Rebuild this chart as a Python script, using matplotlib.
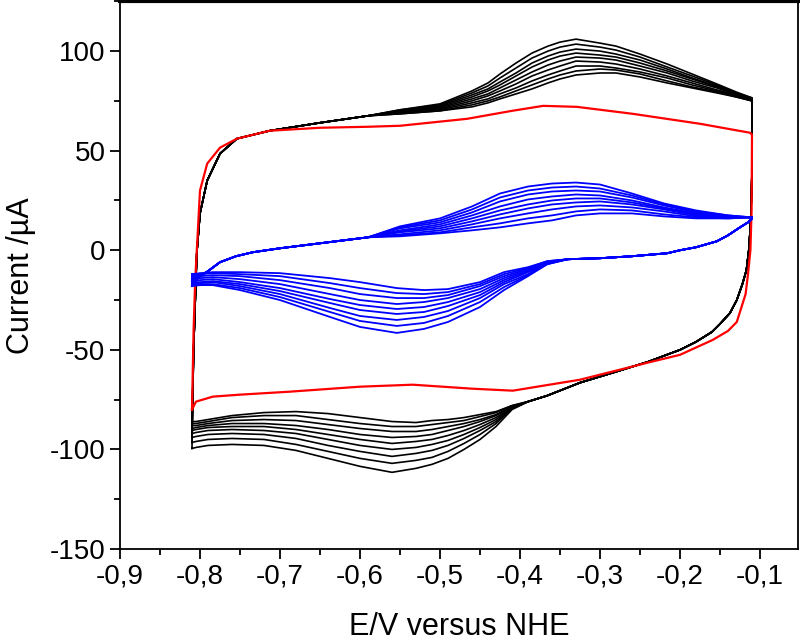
import matplotlib
matplotlib.use("Agg")
import matplotlib.pyplot as plt
from matplotlib.ticker import MultipleLocator, FuncFormatter

# ---- data (E in V vs NHE, I in uA) ----

# black cycles: shared rising edge at -0.81 V
black_rise_E = [-0.808, -0.804, -0.80, -0.791, -0.775, -0.754, -0.713, -0.65, -0.59]
black_rise_I = [-50, -1.5, 18.5, 35, 48.5, 56, 60, 64, 67.5]

# black anodic peak region, one row per cycle (outer -> inner)
black_peak_E = [-0.55, -0.50, -0.46, -0.44, -0.425, -0.405, -0.385, -0.365, -0.35, -0.33,
                -0.30, -0.28, -0.25, -0.216, -0.185, -0.154, -0.13, -0.11]
black_peak_I = [
    [70.5, 73.5, 80, 84, 88.5, 94, 99, 102.5, 104.5, 106, 104, 102.5, 98.5, 93.5, 88.5, 83.5, 79.5, 76.5],
    [70.5, 73, 79, 82.5, 86.5, 91.5, 96.5, 100, 102, 103.5, 102, 100.5, 97, 92, 87.5, 83, 79, 76.5],
    [70, 72.5, 78, 81, 84.5, 89, 94, 97.5, 99.5, 101, 100, 98.5, 95.5, 91, 86.5, 82.5, 78.5, 76],
    [70, 72, 77, 80, 83, 87.5, 92, 95.5, 97.5, 99, 98, 97, 94, 90, 86, 82, 78.5, 76],
    [69.5, 71.5, 76, 78.5, 81.5, 85.5, 89.5, 93, 95, 97, 96.5, 95.5, 92.5, 89, 85, 81.5, 78, 75.5],
    [69.5, 71, 75, 77.5, 80, 83.5, 87.5, 90.5, 92.5, 95, 94.5, 93.5, 91, 87.5, 84, 80.5, 78, 75.5],
    [69, 70.5, 74, 76, 78.5, 81.5, 85, 88, 90, 92.5, 92.5, 91.5, 89.5, 86.5, 83, 80, 77.5, 75],
    [68.5, 70, 73, 75, 77, 80, 83, 86, 88, 90, 91, 90.5, 88.5, 85, 82, 79.5, 77, 75],
    [68.5, 70, 72, 74, 76, 78.5, 81, 84, 86, 88, 89, 89, 87, 84, 81.5, 79, 77, 75],
]

# black switching edge at -0.11 V and shared cathodic start
black_drop_E = [-0.11, -0.1115, -0.114, -0.117, -0.122, -0.129, -0.1375, -0.15, -0.16,
                -0.18, -0.20, -0.24, -0.28, -0.325, -0.366, -0.39]
black_drop_I = [40, 15, 0, -10, -17, -25, -31.5, -37, -41, -46, -50, -56, -61, -66.5,
                -73, -76]

# black cathodic valley, one row per cycle (outer -> inner)
black_valley_E = [-0.41, -0.43, -0.45, -0.47, -0.49, -0.51, -0.53, -0.56, -0.60, -0.64,
                  -0.68, -0.72, -0.76, -0.79, -0.805, -0.81]
black_valley_I = [
    [-80, -88.5, -95, -100, -104.5, -107.5, -109.5, -111.5, -108.5, -104.5, -100.5, -98, -97.5, -98, -99, -99.5],
    [-79.5, -87, -92.5, -97, -101, -104, -105.5, -107, -104.5, -101, -97.5, -95, -94.5, -95, -96, -96.5],
    [-79.5, -86, -90.5, -94.5, -98, -100.5, -102, -103.5, -101, -98, -94.5, -92.5, -92, -92.5, -93.5, -94],
    [-79, -85, -89, -92.5, -95.5, -97.5, -99, -100, -98, -95, -92, -90.5, -90, -90.5, -91.5, -92],
    [-79, -84, -87.5, -90.5, -93, -95, -96, -97, -95, -92.5, -90, -88.5, -88.5, -89, -90, -90.5],
    [-78.5, -83, -86, -88.5, -90.5, -92.5, -93.5, -94, -92.5, -90, -88, -87, -87, -88, -89, -89.5],
    [-78.5, -82.5, -85, -87, -88.5, -90, -91, -91, -89.5, -87.5, -85.5, -85, -85.5, -87, -88, -88],
    [-78, -81.5, -83.5, -85.5, -86.5, -87.5, -88.5, -88.5, -87, -85, -83, -83, -84, -86, -87, -87],
    [-78, -81, -82.5, -84, -85, -85.5, -86.5, -86, -84, -82, -81, -81.5, -83, -85, -86, -86],
]

# red single cycle
red_E = [-0.81, -0.808, -0.806, -0.80, -0.791, -0.775, -0.754, -0.713, -0.65, -0.59,
         -0.55, -0.466, -0.41, -0.371, -0.329, -0.259, -0.175, -0.1125, -0.11,
         -0.1105, -0.112, -0.115, -0.118, -0.129, -0.14, -0.159, -0.2, -0.241, -0.325,
         -0.409, -0.46, -0.534, -0.6, -0.6875, -0.75, -0.784, -0.805, -0.81]
red_I = [-80, -40, -15, 30, 43.5, 51.5, 56, 60, 61.5, 62,
         62.5, 66, 70, 72.5, 72, 68.5, 63.5, 59, 58,
         20, 0, -12, -22, -36, -40.5, -45, -52.5, -56.5, -65,
         -70.5, -69.5, -67.5, -68.5, -71, -72.5, -73.5, -76, -80]

# blue cycles: shared rise after -0.81 V
blue_rise_E = [-0.80, -0.79, -0.775, -0.755, -0.734, -0.70, -0.67, -0.63, -0.59]
blue_rise_I = [-13, -10.5, -6, -3, -1, 1, 2.5, 4.5, 6.5]

blue_peak_E = [-0.55, -0.50, -0.46, -0.425, -0.39, -0.36, -0.33, -0.30, -0.26, -0.22,
               -0.18, -0.14, -0.11]
blue_peak_I = [
    [12, 16, 22, 28.5, 32, 33.5, 34, 33, 28.5, 23.5, 20, 17.5, 16.5],
    [11.5, 15, 20.5, 26.5, 30, 31.5, 32, 31, 27.5, 23, 19.5, 17.5, 16.5],
    [11, 14, 19, 24.5, 28, 29.5, 30, 29.5, 26.5, 22.5, 19, 17, 16.5],
    [10, 13, 17.5, 22, 25.5, 27, 28, 27.5, 25, 21.5, 18.5, 17, 16.5],
    [9.5, 12, 16, 20, 23, 25, 26, 26, 24, 21, 18, 17, 16.5],
    [9, 11, 14.5, 18, 21, 23, 24, 24.5, 23, 20.5, 17.5, 16.5, 16.5],
    [8, 10, 13, 16, 18.5, 20.5, 22, 22.5, 21.5, 19.5, 17, 16.5, 16.5],
    [7.5, 9, 11.5, 13.5, 16, 17.5, 19.5, 20.5, 20, 18, 16.5, 16, 16.5],
    [7, 8.5, 10, 11.5, 13.5, 15, 17.5, 18.5, 18.5, 17, 16, 16, 16.5],
]

blue_drop_E = [-0.11, -0.115, -0.125, -0.14, -0.154, -0.18, -0.20, -0.216, -0.26, -0.30,
               -0.34]
blue_drop_I = [16, 14, 11.5, 7.5, 4.5, 1.5, 0, -1.5, -3, -4, -4.5]

blue_valley_E = [-0.366, -0.39, -0.42, -0.45, -0.49, -0.52, -0.554, -0.60, -0.6375, -0.70,
                 -0.75, -0.784, -0.80, -0.81]
blue_valley_I = [
    [-7, -13, -20, -28.5, -36, -39.5, -41.5, -38.5, -33.5, -25, -20, -17.5, -17.5, -18],
    [-7, -12.5, -18.5, -26, -33, -36.5, -38, -35.5, -31, -23.5, -19, -17, -17, -17.5],
    [-6.5, -12, -17, -24, -30.5, -33.5, -35, -33, -29, -22, -18, -16, -16.5, -17],
    [-6.5, -11, -16, -22.5, -28, -31, -32, -30, -26.5, -20.5, -17, -15.5, -16, -16],
    [-6, -10.5, -15, -21, -26, -28.5, -29.5, -27.5, -24.5, -19, -16, -14.5, -15, -15.5],
    [-6, -10, -14, -19.5, -24, -26, -27, -25, -22, -17, -14.5, -13.5, -14, -14.5],
    [-6, -9.5, -13, -18, -22.5, -24, -24, -22, -19, -15, -13, -12.5, -13, -13.5],
    [-5.5, -9, -12, -17, -21, -22, -21.5, -19, -16.5, -13, -12, -11.5, -12, -12.5],
    [-5.5, -8.5, -11, -16, -19.5, -20, -19, -16, -14, -11.5, -11, -11, -11.5, -12],
]

x_ticks = [-0.9, -0.8, -0.7, -0.6, -0.5, -0.4, -0.3, -0.2, -0.1]
y_ticks = [-150, -100, -50, 0, 50, 100]

plt.rcParams["font.family"] = ["Liberation Sans", "DejaVu Sans"]
plt.rcParams["axes.unicode_minus"] = False

fig = plt.figure(figsize=(8, 6.44), dpi=100)
ax = fig.add_axes([0.15, 0.1475, 0.8475, 0.8505])


def draw_cycles(rise_E, rise_I, peak_E, peak_rows, drop_E, drop_I, valley_E, valley_rows, color, lw):
    for peak_I, valley_I in zip(peak_rows, valley_rows):
        E = [valley_E[-1]] + rise_E + peak_E + drop_E + valley_E
        I = [valley_I[-1]] + rise_I + peak_I + drop_I + valley_I
        ax.plot(E, I, color=color, lw=lw, solid_joinstyle="round")


draw_cycles(black_rise_E, black_rise_I, black_peak_E, black_peak_I,
            black_drop_E, black_drop_I, black_valley_E, black_valley_I, "black", 1.2)
ax.plot(red_E, red_I, color="#ff0000", lw=1.6)
draw_cycles(blue_rise_E, blue_rise_I, blue_peak_E, blue_peak_I,
            blue_drop_E, blue_drop_I, blue_valley_E, blue_valley_I, "#0000ff", 1.3)

ax.set_xlim(-0.9, -0.0525)
ax.set_ylim(-150, 125)
ax.set_xticks(x_ticks)
ax.set_yticks(y_ticks)
ax.xaxis.set_minor_locator(MultipleLocator(0.05))
ax.yaxis.set_minor_locator(MultipleLocator(25))
ax.xaxis.set_major_formatter(FuncFormatter(lambda v, p: f"{v:.1f}".replace(".", ",")))
ax.yaxis.set_major_formatter(FuncFormatter(lambda v, p: f"{v:.0f}"))
ax.tick_params(which="both", direction="out", top=False, right=False, labelsize=20, width=1.3)
ax.tick_params(which="major", length=7)
ax.tick_params(which="minor", length=4)

for s in ["left", "bottom", "right"]:
    ax.spines[s].set_linewidth(1.3)
ax.spines["top"].set_linewidth(3)

ax.set_xlabel("E/V versus NHE", fontsize=22, labelpad=16)
ax.set_ylabel("Current /µA", fontsize=22, labelpad=10)

fig.savefig("out.png", dpi=100)
